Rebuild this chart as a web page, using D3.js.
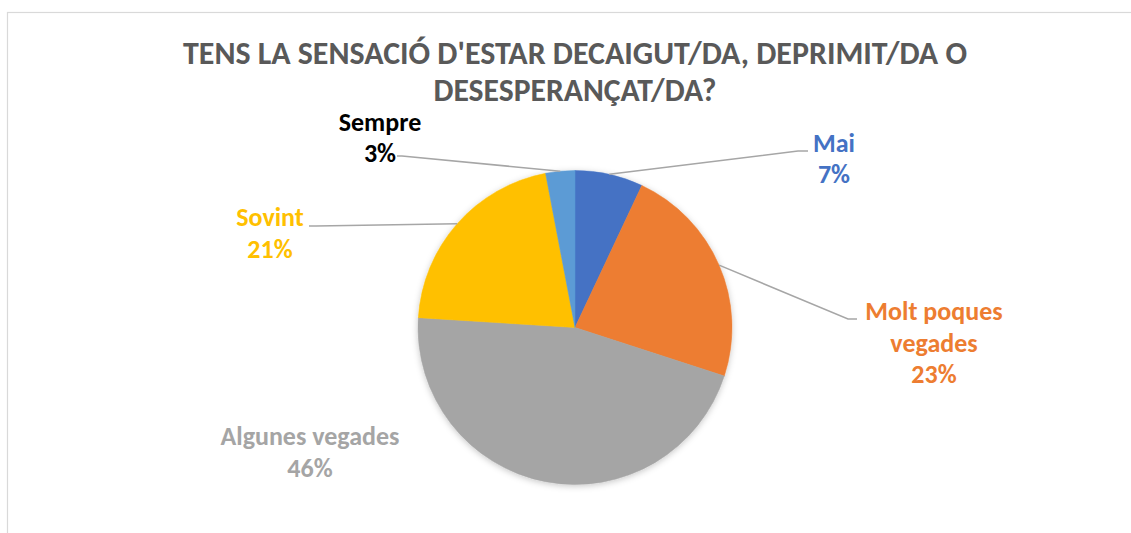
<!DOCTYPE html>
<html>
<head>
<meta charset="utf-8">
<style>
    body { margin: 0; background: #fff; }
    svg { display: block; }
</style>
</head>
<body>
<script src="https://d3js.org/d3.v7.min.js"></script>
<script>
    var categories = ["Mai", "Molt poques vegades", "Algunes vegades", "Sovint", "Sempre"];
    var values = [7, 23, 46, 21, 3];
    var labelLines = [["Mai"], ["Molt poques", "vegades"], ["Algunes vegades"], ["Sovint"], ["Sempre"]];
    var titleLines = ["TENS LA SENSACIÓ D'ESTAR DECAIGUT/DA, DEPRIMIT/DA O", "DESESPERANÇAT/DA?"];

    var colors = ["#4472C4", "#ED7D31", "#A5A5A5", "#FFC000", "#5B9BD5"];
    var textColors = ["#4472C4", "#ED7D31", "#A5A5A5", "#FFC000", "#000000"];

    // label placement (centre x, first baseline) and leader line elbow/end
    var labelPos = [
        { x: 834, y: 151.5, elbow: [798, 151], end: [808, 151] },
        { x: 934, y: 320, elbow: [848, 319], end: [857, 319] },
        { x: 310, y: 445, elbow: null, end: null },
        { x: 270, y: 226, elbow: [316, 226], end: [309, 226] },
        { x: 380, y: 130.7, elbow: [402, 156], end: [397, 156] }
    ];

    var W = 1131, H = 533;
    var cx = 575, cy = 327.5, R = 157;
    var font = "Calibri, Carlito, 'Open Sans', sans-serif";

    var svg = d3.select("body").append("svg")
        .attr("width", W)
        .attr("height", H);

    svg.append("rect")
        .attr("width", W).attr("height", H)
        .attr("fill", "#fff");

    // chart border (runs off the right and bottom)
    svg.append("rect")
        .attr("x", 7.5).attr("y", 12.5)
        .attr("width", 1300).attr("height", 700)
        .attr("fill", "none")
        .attr("stroke", "#D9D9D9")
        .attr("stroke-width", 1.2);

    var defs = svg.append("defs");
    defs.append("filter").attr("id", "shadow")
        .attr("x", "-20%").attr("y", "-20%").attr("width", "140%").attr("height", "140%")
        .append("feDropShadow")
        .attr("dx", 0).attr("dy", 1.5)
        .attr("stdDeviation", 3)
        .attr("flood-color", "#000")
        .attr("flood-opacity", 0.22);

    // title
    var titleLen = [784, 283];
    var titleY = [63.5, 100.5];
    titleLines.forEach(function (t, i) {
        svg.append("text")
            .attr("x", cx).attr("y", titleY[i])
            .attr("text-anchor", "middle")
            .attr("font-family", font)
            .attr("font-weight", "bold")
            .attr("font-size", 32)
            .attr("fill", "#595959")
            .attr("textLength", titleLen[i])
            .attr("lengthAdjust", "spacingAndGlyphs")
            .text(t);
    });

    var pie = d3.pie().sort(null).value(d => d);
    var arcs = pie(values);
    var arc = d3.arc().innerRadius(0).outerRadius(R);

    var g = svg.append("g")
        .attr("transform", "translate(" + cx + "," + cy + ")");

    g.append("g")
        .attr("filter", "url(#shadow)")
        .selectAll("path")
        .data(arcs)
        .enter()
        .append("path")
        .attr("d", arc)
        .attr("fill", (d, i) => colors[i])
        .attr("stroke", (d, i) => colors[i])
        .attr("stroke-width", 0.5);

    // leader lines
    arcs.forEach(function (d, i) {
        var p = labelPos[i];
        if (!p.elbow) return;
        var a = (d.startAngle + d.endAngle) / 2;
        var x0 = cx + R * Math.sin(a), y0 = cy - R * Math.cos(a);
        svg.append("path")
            .attr("d", d3.line()([[x0, y0], p.elbow, p.end]))
            .attr("fill", "none")
            .attr("stroke", "#A6A6A6")
            .attr("stroke-width", 1.5);
    });

    // data labels
    var labelSize = 26, lineH = 31.6;
    var probe = svg.append("text")
        .attr("font-family", font).attr("font-weight", "bold")
        .attr("font-size", labelSize).text("Molt poques");
    var squeeze = Math.min(1, 139 / probe.node().getComputedTextLength());
    probe.remove();

    arcs.forEach(function (d, i) {
        var p = labelPos[i];
        var lines = labelLines[i].concat([values[i] + "%"]);
        lines.forEach(function (s, k) {
            var t = svg.append("text")
                .attr("x", p.x).attr("y", p.y + k * lineH)
                .attr("text-anchor", "middle")
                .attr("font-family", font)
                .attr("font-weight", "bold")
                .attr("font-size", labelSize)
                .attr("fill", textColors[i])
                .text(s);
            var len = t.node().getComputedTextLength();
            t.attr("textLength", len * squeeze)
                .attr("lengthAdjust", "spacingAndGlyphs");
        });
    });
</script>
</body>
</html>
